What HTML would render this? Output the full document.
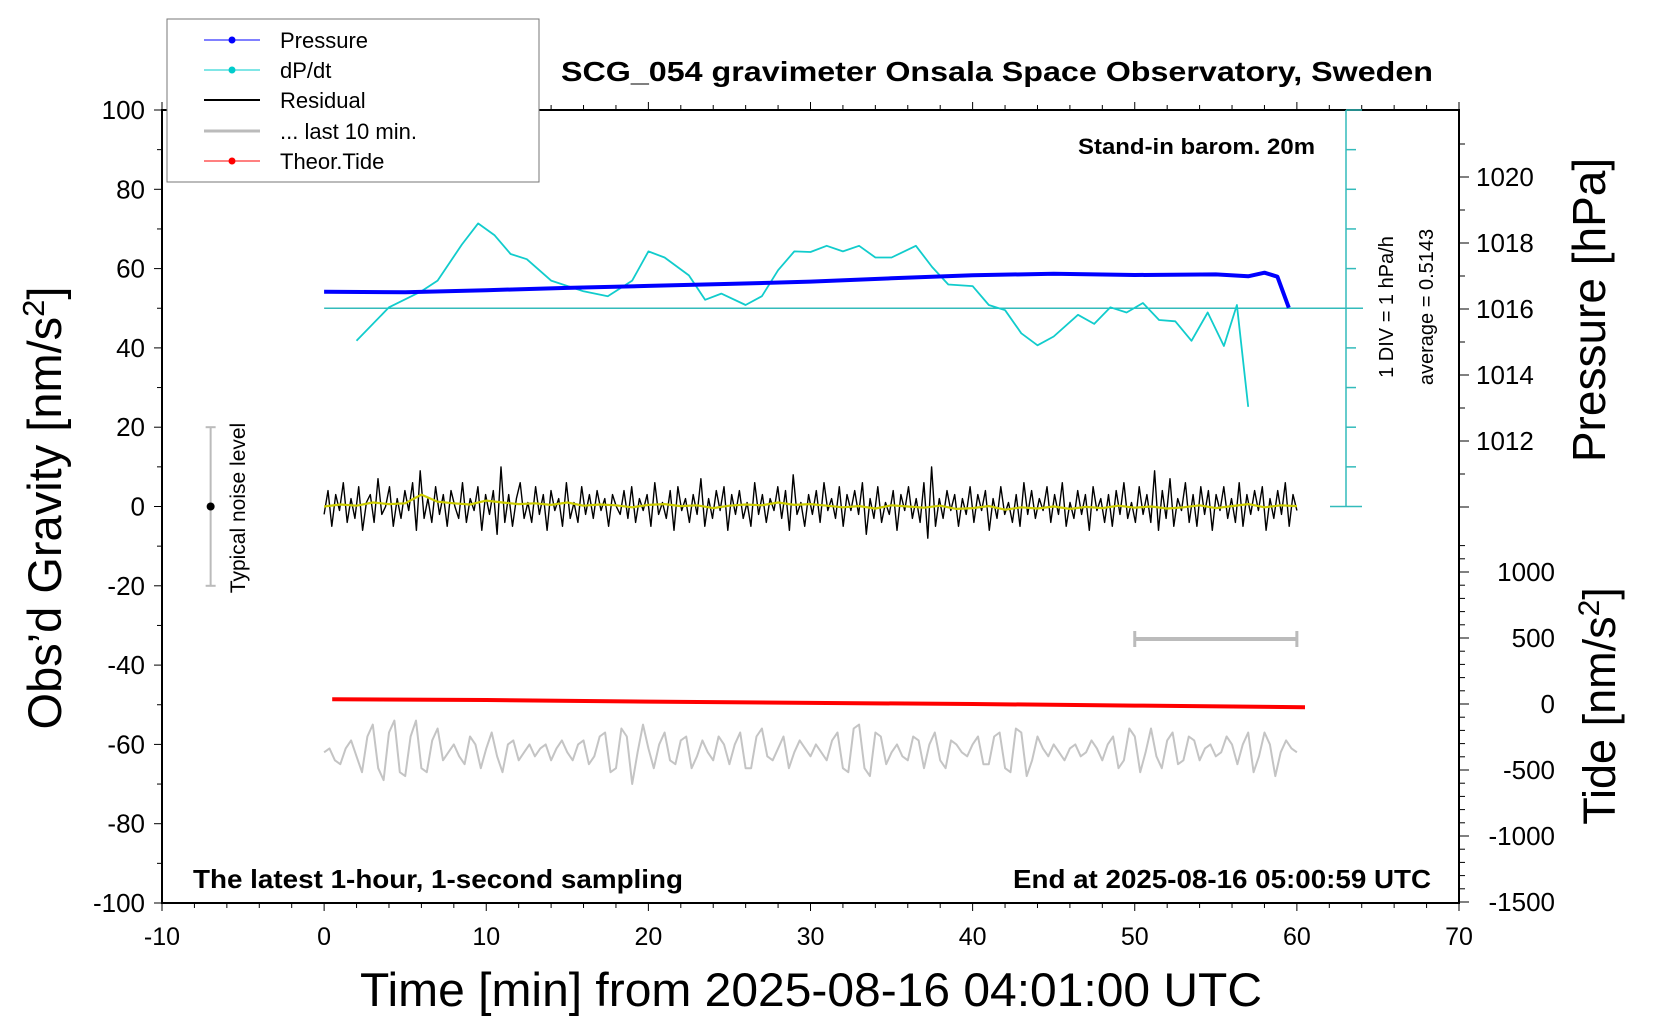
<!DOCTYPE html>
<html><head><meta charset="utf-8"><style>
html,body{margin:0;padding:0;background:#fff;}
svg{display:block;font-family:"Liberation Sans",sans-serif;}
</style></head><body>
<svg id="chart" width="1660" height="1020" viewBox="0 0 1660 1020" xmlns="http://www.w3.org/2000/svg">
<g id="grid"></g>
<g id="marks"></g>
<text x="561" y="81" font-size="28" font-weight="bold" textLength="872" lengthAdjust="spacingAndGlyphs">SCG_054 gravimeter Onsala Space Observatory, Sweden</text>
<text x="1078" y="154" font-size="22" font-weight="bold" textLength="237" lengthAdjust="spacingAndGlyphs">Stand-in barom. 20m</text>
<text x="193" y="888" font-size="26" font-weight="bold" textLength="490" lengthAdjust="spacingAndGlyphs">The latest 1-hour, 1-second sampling</text>
<text x="1013" y="888" font-size="26" font-weight="bold" textLength="418" lengthAdjust="spacingAndGlyphs">End at 2025-08-16 05:00:59 UTC</text>
<text x="360" y="1006" font-size="47" textLength="902" lengthAdjust="spacingAndGlyphs">Time [min] from 2025-08-16 04:01:00 UTC</text>
<text transform="translate(61,508) rotate(-90)" font-size="47" text-anchor="middle">Obs’d Gravity [nm/s<tspan font-size="31" dy="-17">2</tspan><tspan dy="17">]</tspan></text>
<text transform="translate(1605,310) rotate(-90)" font-size="46" text-anchor="middle">Pressure [hPa]</text>
<text transform="translate(1615,706) rotate(-90)" font-size="45" text-anchor="middle">Tide [nm/s<tspan font-size="30" dy="-16">2</tspan><tspan dy="16">]</tspan></text>
<text transform="translate(1393,307) rotate(-90)" font-size="20" text-anchor="middle">1 DIV = 1 hPa/h</text>
<text transform="translate(1433,307) rotate(-90)" font-size="20" text-anchor="middle">average = 0.5143</text>
<text transform="translate(245,508) rotate(-90)" font-size="21" text-anchor="middle">Typical noise level</text>
<g>
<rect x="167" y="19" width="372" height="163" fill="#fff" stroke="#777" stroke-width="1"/>
<g><line x1="204" y1="40" x2="260" y2="40" stroke="#00f" stroke-width="1"/><circle cx="232" cy="40" r="3.5" fill="#00f"/><text x="280" y="48" font-size="22">Pressure</text></g>
<g><line x1="204" y1="70" x2="260" y2="70" stroke="#0cc" stroke-width="1"/><circle cx="232" cy="70" r="3.5" fill="#0cc"/><text x="280" y="78" font-size="22">dP/dt</text></g>
<g><line x1="204" y1="100" x2="260" y2="100" stroke="#000" stroke-width="2"/><text x="280" y="108" font-size="22">Residual</text></g>
<g><line x1="204" y1="131" x2="260" y2="131" stroke="#bbb" stroke-width="3"/><text x="280" y="139" font-size="22">... last 10 min.</text></g>
<g><line x1="204" y1="161" x2="260" y2="161" stroke="#f00" stroke-width="1"/><circle cx="232" cy="161" r="3.5" fill="#f00"/><text x="280" y="169" font-size="22">Theor.Tide</text></g>
</g>
</svg>
<script>
// ---- data ----
const xTicks=[-10,0,10,20,30,40,50,60,70];
const yTicks=[100,80,60,40,20,0,-20,-40,-60,-80,-100];
const pTicks=[1020,1018,1016,1014,1012];
const tideTicks=[1000,500,0,-500,-1000,-1500];
const pressureT=[0,5,10,15,20,25,30,35,40,45,50,55,57,58,58.8,59.5];
const pressureV=[1016.52,1016.51,1016.57,1016.64,1016.7,1016.76,1016.83,1016.93,1017.02,1017.07,1017.03,1017.05,1016.99,1017.1,1016.98,1016.04];
const dpdtT=[2,4,6,7,8.5,9.5,10.5,11.5,12.5,14,16,17.5,19,20,21,22.5,23.5,24.5,26,27,28,29,30,31,32,33,34,35,36.5,37.5,38.5,40,41,42,43,44,45,46.5,47.5,48.5,49.5,50.5,51.5,52.5,53.5,54.5,55.5,56.3,57];
const dpdtV=[-1.0,0.03,0.52,0.85,1.96,2.61,2.25,1.67,1.51,0.85,0.52,0.37,0.85,1.75,1.56,1.01,0.26,0.45,0.1,0.37,1.17,1.75,1.73,1.92,1.75,1.92,1.56,1.56,1.92,1.27,0.73,0.68,0.1,-0.06,-0.77,-1.14,-0.87,-0.2,-0.48,0.03,-0.13,0.16,-0.36,-0.4,-1.0,-0.13,-1.16,0.1,-3.03];
const tideT=[0.5,10,20,30,40,50,60.5];
const tideV=[36,30,18,8,0,-12,-24];
const residualV=[-2,4,-5,3,-1,6,-4,2,-3,5,-6,1,3,-4,7,-2,0,5,-5,2,-3,4,-1,6,-6,9,-3,2,-4,5,-2,3,-5,4,0,-3,6,-4,2,-1,5,-6,3,-2,4,-7,10,-4,3,-5,2,6,-3,1,-4,5,-2,3,-6,4,-1,2,-5,6,-3,1,-4,5,-2,3,-3,4,-1,2,-5,3,0,-2,4,-3,5,-4,2,-1,3,-5,6,-2,1,-3,4,-6,5,-1,2,-4,3,-2,7,-5,2,-3,4,-1,5,-6,3,-2,4,-3,1,-5,6,-2,3,-4,2,-1,5,-3,4,-6,8,-2,1,-5,3,-2,4,-4,6,-1,2,-3,5,-5,3,-1,4,-2,6,-7,2,-3,5,-4,1,-2,4,-6,3,-1,5,-3,2,-4,6,-8,10,-5,2,-3,4,-1,3,-5,2,-2,5,-4,3,-1,4,-6,2,-3,5,-2,1,-4,3,-5,6,-2,4,-3,2,-1,5,-4,3,-2,6,-5,1,-3,4,-2,3,-6,5,-1,2,-4,3,-5,4,-2,6,-3,1,-4,5,-2,3,-4,9,-6,4,-3,7,-5,2,-1,6,-4,3,-5,5,-2,4,-6,3,-1,5,-3,2,-4,6,-5,3,-2,4,-1,5,-6,2,-3,4,-2,6,-5,3,-1];
const smoothV=[0,0.5,0.2,1,0.6,0.8,3,1.2,0.8,0.5,1.5,1,0.6,0.8,0.4,1,0.2,0.5,0.3,-0.2,0.4,0.6,0.1,0.3,-0.4,0.2,0.5,0.3,1,0.4,0.6,0.2,-0.2,0.1,-0.5,0.3,0,-0.3,0.2,-0.6,-0.4,0.1,-0.8,-0.2,-0.5,0,-0.6,-0.1,-0.4,0.2,-0.3,0,-0.5,-0.2,0.3,-0.4,0.1,0.6,-0.2,0.3,0.1];
const grayV=[-62,-61,-64,-65,-61,-59,-63,-67,-58,-55,-66,-69,-57,-54,-67,-68,-58,-54,-66,-67,-59,-56,-64,-62,-60,-63,-65,-58,-60,-66,-61,-57,-63,-67,-60,-59,-64,-62,-60,-63,-61,-60,-64,-61,-59,-62,-64,-60,-59,-65,-63,-58,-57,-67,-66,-56,-58,-70,-62,-55,-61,-66,-60,-57,-64,-65,-59,-58,-66,-63,-59,-62,-64,-58,-60,-65,-60,-57,-66,-66,-58,-56,-63,-64,-61,-58,-66,-62,-59,-61,-63,-60,-62,-64,-59,-57,-66,-67,-56,-55,-66,-68,-57,-58,-65,-62,-60,-63,-64,-58,-59,-66,-60,-57,-64,-66,-59,-60,-62,-63,-60,-58,-65,-65,-58,-57,-66,-67,-56,-57,-68,-64,-58,-61,-63,-60,-62,-64,-61,-60,-63,-62,-59,-61,-64,-60,-58,-66,-64,-56,-58,-67,-62,-56,-63,-66,-59,-57,-65,-64,-58,-59,-64,-61,-60,-63,-62,-58,-60,-65,-60,-57,-67,-63,-57,-60,-68,-62,-59,-61,-62];
const noiseBar=[-20,20];
// ---- axes ----
const X0=162,X1=1459,Y0=110,Y1=903;
const xs=v=>X0+(v+10)/80*(X1-X0);
const ys=v=>Y0+(100-v)/200*(Y1-Y0);
const ps=v=>309-(v-1016)*33;
const ts=v=>704-v*0.132;
const dps=v=>ys(50+v*8.2);
const NS="http://www.w3.org/2000/svg";
function mk(tag,attrs,parent){const e=document.createElementNS(NS,tag);for(const k in attrs)e.setAttribute(k,attrs[k]);parent.appendChild(e);return e;}
const G=document.getElementById('grid'),M=document.getElementById('marks');
const fr=mk('rect',{x:X0,y:Y0,width:X1-X0,height:Y1-Y0,fill:'none',stroke:'#000','stroke-width':2},G);


for(let v=-10;v<=70;v+=2){const big=v%10===0;
 mk('line',{x1:xs(v),y1:Y1,x2:xs(v),y2:Y1+(big?8:5),stroke:'#000','stroke-width':1},G);
 mk('line',{x1:xs(v),y1:Y0,x2:xs(v),y2:Y0-(big?8:5),stroke:'#000','stroke-width':1},G);}
xTicks.forEach(v=>{const t=mk('text',{x:xs(v),y:945,'font-size':25,'text-anchor':'middle'},G);t.textContent=v;
 
 });
for(let v=-100;v<=100;v+=10){mk('line',{x1:X0,y1:ys(v),x2:X0-(v%20===0?8:5),y2:ys(v),stroke:'#000'},G);}
yTicks.forEach(v=>{const t=mk('text',{x:145,y:ys(v)+9,'font-size':26,'text-anchor':'end'},G);t.textContent=v;
 
 });
for(let v=1010;v<=1021;v++){const y=ps(v);if(y<Y0||y>510)continue;mk('line',{x1:X1,y1:y,x2:X1+(v%2===0?10:6),y2:y,stroke:'#000'},G);}
pTicks.forEach(v=>{const t=mk('text',{x:1476,y:ps(v)+9,'font-size':26},G);t.textContent=v;
 
 });
for(let v=-1500;v<=1250;v+=100){const y=ts(v);if(y<545)continue;mk('line',{x1:X1,y1:y,x2:X1+(v%500===0?10:6),y2:y,stroke:'#000'},G);}
tideTicks.forEach(v=>{const t=mk('text',{x:1555,y:ts(v)+9,'font-size':26,'text-anchor':'end'},G);t.textContent=v;
 
 });
mk('line',{x1:1346,y1:ys(100),x2:1346,y2:ys(0),stroke:'#3bb','stroke-width':1.5},G);
for(let v=0;v<=100;v+=10){mk('line',{x1:1346,y1:ys(v),x2:1346+((v===0||v===100||v===50)?16:10),y2:ys(v),stroke:'#3bb','stroke-width':1.5},G);}
mk('line',{x1:1330,y1:ys(0),x2:1346,y2:ys(0),stroke:'#3bb','stroke-width':1.5},G);
const base=mk('line',{x1:xs(0),y1:ys(50),x2:1363,y2:ys(50),stroke:'#3bb','stroke-width':1.5},M);


function poly(xsArr,ysArr,stroke,w,name){const pts=xsArr.map((x,i)=>x.toFixed(1)+','+ysArr[i].toFixed(1)).join(' ');
 const p=mk('polyline',{points:pts,fill:'none',stroke:stroke,'stroke-width':w,'stroke-linejoin':'round'},M);
 
 return p;}
mk('line',{x1:xs(-7),y1:ys(noiseBar[0]),x2:xs(-7),y2:ys(noiseBar[1]),stroke:'#bbb','stroke-width':2},M);
mk('line',{x1:xs(-7)-5,y1:ys(noiseBar[0]),x2:xs(-7)+5,y2:ys(noiseBar[0]),stroke:'#bbb','stroke-width':2},M);
mk('line',{x1:xs(-7)-5,y1:ys(noiseBar[1]),x2:xs(-7)+5,y2:ys(noiseBar[1]),stroke:'#bbb','stroke-width':2},M);
const nd=mk('circle',{cx:xs(-7),cy:ys(0),r:4,fill:'#000'},M);


mk('line',{x1:xs(50),y1:639,x2:xs(60),y2:639,stroke:'#bbb','stroke-width':4},M);
mk('line',{x1:xs(50),y1:631,x2:xs(50),y2:647,stroke:'#bbb','stroke-width':3},M);
mk('line',{x1:xs(60),y1:631,x2:xs(60),y2:647,stroke:'#bbb','stroke-width':3},M);
poly(dpdtT.map(xs),dpdtV.map(dps),'#1cc',1.8,'dpdt-line');
poly(pressureT.map(xs),pressureV.map(ps),'#00f',4,'pressure-line');
poly(residualV.map((v,i)=>xs(i*60/(residualV.length-1))),residualV.map(ys),'#000',1.4,'residual-line');
poly(smoothV.map((v,i)=>xs(i*60/(smoothV.length-1))),smoothV.map(ys),'#cc0',2.2,'residual-smoothed-line');
poly(tideT.map(xs),tideV.map(ts),'#f00',4,'tide-line');
poly(grayV.map((v,i)=>xs(i*60/(grayV.length-1))),grayV.map(ys),'#c4c4c4',2,'last-10-min-line');
</script>
</body></html>
